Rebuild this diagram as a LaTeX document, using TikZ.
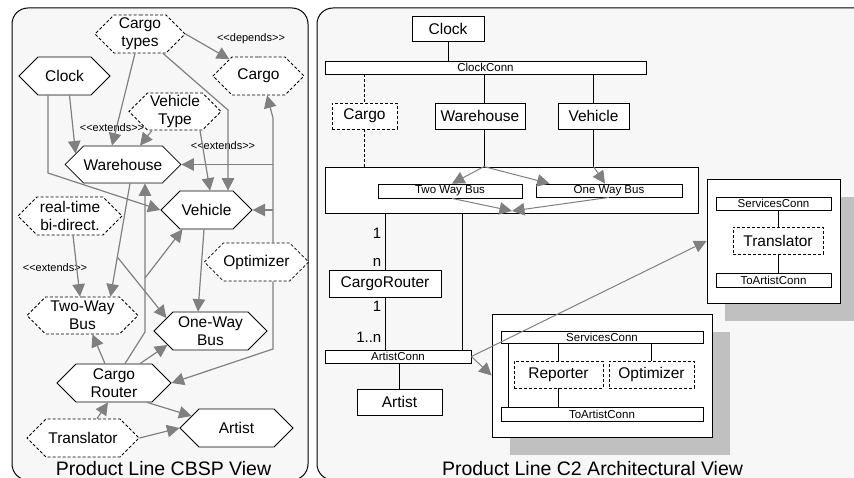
\documentclass[tikz,border=0pt]{standalone}
\usepackage{fontspec}
\setmainfont{Liberation Sans}
\usetikzlibrary{shapes.symbols,arrows.meta,calc,shadows}
\definecolor{panelbg}{HTML}{F7F7F7}
\definecolor{conngray}{HTML}{808080}
\definecolor{shadowgray}{HTML}{C0C0C0}
\tikzset{
  sz/.style 2 args={minimum width=#1pt, minimum height=#2pt},
  hexbox/.style={shape=signal, signal to=west and east, signal from=nowhere, signal pointer angle=90, draw=black, fill=white, line width=0.8pt, inner sep=0pt, align=center, font=\fontsize{15.5}{18}\selectfont},
  dhexbox/.style={hexbox, dash pattern=on 3pt off 2pt},
  garrow/.style={draw=conngray, line width=1.2pt, -{Triangle[length=12.5pt,width=12.5pt]}},
  stereo/.style={font=\fontsize{11}{12}\selectfont, inner sep=0pt},
  cbox/.style={draw=black, fill=white, line width=0.8pt, inner sep=0pt, font=\fontsize{15.5}{18}\selectfont},
  dcbox/.style={cbox, dash pattern=on 3pt off 2pt},
  cbar/.style={draw=black, fill=white, line width=0.8pt, inner sep=0pt, font=\fontsize{11.5}{13}\selectfont},
  cline/.style={draw=black, line width=0.8pt},
  dline/.style={cline, dash pattern=on 3pt off 2pt},
  card/.style={font=\fontsize{15}{17}\selectfont, inner sep=0pt, anchor=east},
  captext/.style={font=\fontsize{19.5}{22}\selectfont, inner sep=0pt, anchor=base},
  carrow/.style={draw=conngray, line width=1pt, -{Triangle[length=12.5pt,width=12.5pt]}},
  panel/.style={draw=black, line width=1pt, fill=panelbg, rounded corners=16pt},
  shadowed/.style={drop shadow={shadow xshift=18pt, shadow yshift=-18pt, fill=shadowgray, opacity=1}},
}
\begin{document}
\begin{tikzpicture}[x=1pt,y=-1pt]
\useasboundingbox (0,0) rectangle (854,478);
\clip (0,0) rectangle (854,478);
% panels
\draw[panel] (12,8) rectangle (308,480);
\draw[panel] (317,8) rectangle (872,480);

% ---------- left panel: CBSP view ----------
\node[dhexbox, sz={90}{38}] (ctypes) at (140,34) {Cargo\\types};
\node[hexbox, sz={91}{38}] (lclock) at (64.5,76) {Clock};
\node[dhexbox, sz={91}{38}] (lcargo) at (258.5,76) {Cargo};
\node[dhexbox, sz={92}{37}] (vtype) at (175,111.5) {Vehicle\\Type};
\node[hexbox, sz={112}{37}] (lwh) at (123,164.5) {Warehouse};
\node[hexbox, sz={91}{38}] (lveh) at (206.5,210) {Vehicle};
\node[dhexbox, sz={104}{38}] (rtbd) at (70,216) {real-time\\bi-direct.};
\node[dhexbox, sz={97}{38}] (lopt) at (256.5,262) {Optimizer};
\node[dhexbox, sz={111}{37}] (twb) at (82.5,315.5) {Two-Way\\Bus};
\node[hexbox, sz={113}{38}] (owb) at (210.5,331) {One-Way\\Bus};
\node[hexbox, sz={114}{38}] (lrouter) at (114,383) {Cargo\\Router};
\node[hexbox, sz={113}{38}] (lartist) at (236.5,428) {Artist};
\node[dhexbox, sz={112}{38}] (ltrans) at (83,438) {Translator};

\node[stereo] (dep) at (251,39) {<\kern0pt<depends>\kern0pt>};
\node[stereo] (ext1) at (112,128) {<\kern0pt<extends>\kern0pt>};
\node[stereo] (ext2) at (223,146) {<\kern0pt<extends>\kern0pt>};
\node[stereo] (ext3) at (55,268) {<\kern0pt<extends>\kern0pt>};

% connectors
\draw[garrow] (ctypes.east) -- (lcargo);
\draw[garrow] ($(ctypes.south)+(-5,0)$) -- ($(lwh.north)+(-11,0)$);
\coordinate (b3) at (228,110);
\draw[garrow] ($(ctypes.south)+(23,0)$) -- (b3) -- (b3 |- lveh.north);
\draw[garrow] ($(lclock.south)+(5,0)$) -- ($(lwh.west)+(11,-11)$);
\coordinate (c5) at (48,173);
\draw[garrow] (c5 |- lclock.south) -- (c5) -- (lveh.west);
\draw[garrow] ($(vtype.south)+(-23,0)$) -- ($(lwh.north)+(17,0)$);
\draw[garrow] ($(vtype.south)+(25,0)$) -- ($(lveh.north)+(3.5,0)$);
% optimizer
\coordinate (o1) at (273,118);
\coordinate (o2) at (273,349);
\draw[garrow] (o1 |- lopt.north) -- (o1) -- ($(lcargo.south)+(8.5,0)$);
\draw[garrow] (o1 |- lwh.east) -- (lwh.east);
\draw[garrow] (o1 |- lveh.east) -- (lveh.east);
\draw[garrow] (o2 |- lopt.south) -- (o2) -- (lrouter.east);
% warehouse to buses
\coordinate (w1) at (117.3,257);
\draw[garrow] ($(lwh.south)+(7,0)$) -- ($(twb.north)+(28,0)$);
\draw[garrow] (w1) -- ($(owb.west)+(13,-13)$);
% cargo router
\coordinate (r1) at (145,332);
\coordinate (r2) at (145,278);
\draw[garrow] ($(lrouter.north)+(11,0)$) -- (r1) -- (r1 |- lwh.south);
\draw[garrow] (r2) -- ($(lveh.south)+(-24,0)$);
\draw[garrow] ($(lveh.south)+(-2.5,0)$) -- ($(owb.north)+(-12.5,0)$);
\draw[garrow] ($(rtbd.south)+(3,0)$) -- ($(twb.north)+(-2.5,0)$);
\draw[garrow] ($(lrouter.north)+(-9,0)$) -- ($(twb.south)+(10,0)$);
\draw[garrow] ($(lrouter.north)+(26,0)$) -- ($(owb.west)+(14,14)$);
\draw[garrow] ($(lrouter.south)+(33,0)$) -- ($(lartist.west)+(12,-12)$);
\draw[garrow] ($(ltrans.north)+(14,0)$) -- ($(lrouter.south)+(-6,0)$);
\draw[garrow] (ltrans.east) -- (lartist.west);

\node[captext] (cap1) at (163.5,475) {Product Line CBSP View};

% ---------- right panel: C2 view ----------
\node[cbox, sz={72}{25}] (rclock) at (448,28.5) {Clock};
\node[cbar, sz={321}{13}] (ckconn) at (485.5,67.5) {ClockConn};
\node[dcbox, sz={65}{26}] (rcargo) at (364.5,116) {Cargo};
\node[cbox, sz={90}{26}] (rwh) at (480,116) {Warehouse};
\node[cbox, sz={71}{26}] (rveh) at (593.5,116) {Vehicle};
\node[cbox, sz={373}{46}] (busbox) at (511.5,190) {};
\node[cbar, sz={144}{14}] (twbar) at (450,191) {Two Way Bus};
\node[cbar, sz={146}{13}] (owbar) at (609,190.5) {One Way Bus};
\node[cbox, sz={112}{27}] (rrouter) at (385,283.5) {CargoRouter};
\node[cbar, sz={146}{13}] (artconn) at (398,356.5) {ArtistConn};
\node[cbox, sz={85}{26}] (rartist) at (399.5,402) {Artist};
\node[cbox, shadowed, sz={133}{124}] (tbox) at (773.5,241) {};
\node[cbar, sz={115}{13}] (tsc) at (773.5,203.5) {ServicesConn};
\node[dcbox, sz={90}{27}] (ttrans) at (778,240.5) {Translator};
\node[cbar, sz={115}{14}] (ttac) at (773.5,280) {ToArtistConn};
\node[cbox, shadowed, sz={220}{123}] (rbox) at (602,375.5) {};
\node[cbar, sz={202}{12}] (rsc) at (602,337) {ServicesConn};
\node[dcbox, sz={89}{27}] (rrep) at (558.5,374.5) {Reporter};
\node[dcbox, sz={85}{27}] (ropt) at (651.5,374.5) {Optimizer};
\node[cbar, sz={202}{14}] (rtac) at (602,414) {ToArtistConn};

\draw[cline] (rclock.south) -- (rclock.south |- ckconn.north);
\draw[dline] (rcargo.north |- ckconn.south) -- (rcargo.north);
\draw[dline] (rcargo.south) -- (rcargo.south |- busbox.north);
\coordinate (whx) at ($(rwh.south)+(4,0)$);
\draw[cline] (whx |- ckconn.south) -- (whx |- rwh.north);
\draw[cline] (whx) -- (whx |- busbox.north);
\draw[cline] (rveh.north |- ckconn.south) -- (rveh.north);
\draw[cline] (rveh.south) -- (rveh.south |- busbox.north);

\coordinate (wj) at (whx |- busbox.north);
\draw[carrow] (wj) -- ($(twbar.north)+(2,0)$);
\draw[carrow] (wj) -- ($(owbar.north west)+(14,0)$);
\draw[carrow] (rveh.south |- busbox.north) -- ($(owbar.north)+(-4,0)$);
\coordinate (bj) at (512,211);
\draw[carrow] ($(twbar.south)+(2,0)$) -- (bj);
\draw[carrow] (owbar.south) -- (bj);

\draw[cline] (rrouter.north |- busbox.south) -- (rrouter.north);
\draw[cline] (rrouter.south) -- (rrouter.south |- artconn.north);
\draw[cline] ($(busbox.south)+(-49.5,0)$) -- ($(artconn.north)+(64,0)$);
\draw[cline] (rartist.north |- artconn.south) -- (rartist.north);

\node[card] (k1) at (381.5,233) {1};
\node[card] (k2) at (381.5,262) {n};
\node[card] (k3) at (381.5,306) {1};
\node[card] (k4) at (381.5,337) {1..n};

\draw[cline] (ttrans.north |- tsc.south) -- (ttrans.north);
\draw[cline] (ttrans.south) -- (ttrans.south |- ttac.north);
\draw[cline] ($(rsc.south west)+(8,0)$) -- ($(rtac.north west)+(8,0)$);
\draw[cline] (rrep.north |- rsc.south) -- (rrep.north);
\draw[cline] (rrep.south) -- (rrep.south |- rtac.north);
\draw[cline] (ropt.north |- rsc.south) -- (ropt.north);

\draw[carrow] (artconn.east) -- (rbox.west);
\draw[carrow] (artconn.east) -- (tbox.west);

\node[captext] (cap2) at (592.5,475) {Product Line C2 Architectural View};
\end{tikzpicture}
\end{document}
